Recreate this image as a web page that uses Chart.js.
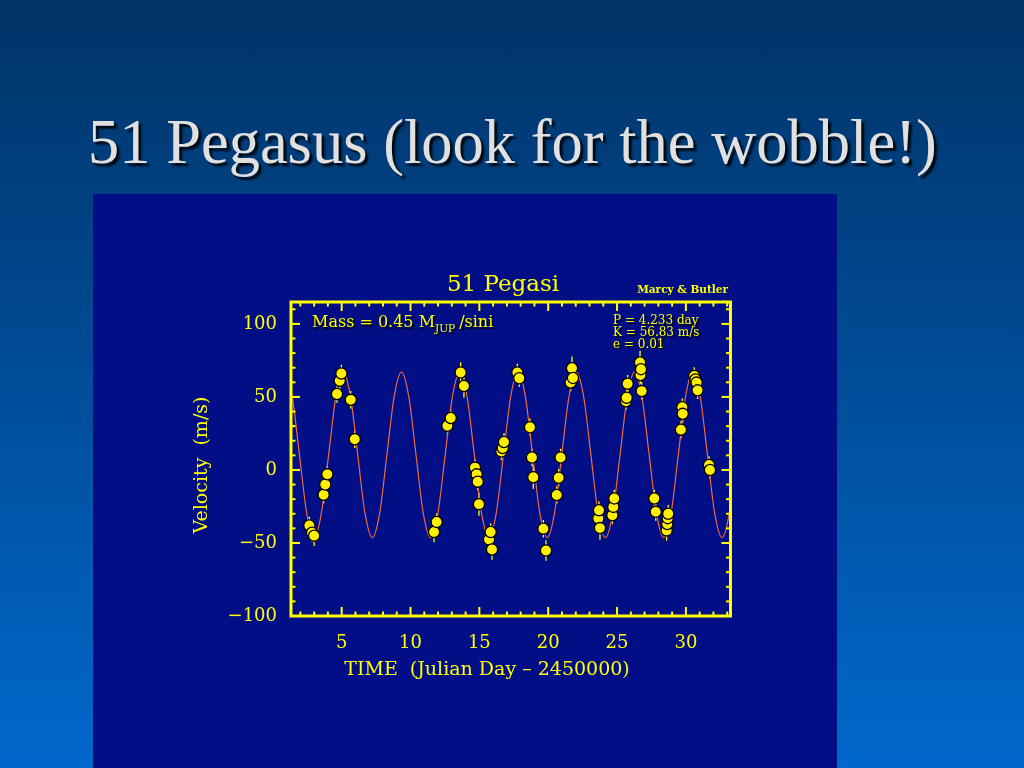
<!DOCTYPE html>
<html><head><meta charset="utf-8">
<script src="https://cdn.jsdelivr.net/npm/chart.js@4"></script>
<style>
html,body{margin:0;padding:0;width:1024px;height:768px;overflow:hidden;}
body{background:linear-gradient(to bottom,#003366 0%,#004a94 45%,#0068cc 100%);position:relative;font-family:"Liberation Serif",serif;}
#title{position:absolute;left:88px;top:111px;margin:0;font-size:62.5px;line-height:63px;font-weight:normal;color:#e0e0e0;text-shadow:3px 3px 2px rgba(0,0,0,0.85);white-space:nowrap;}
#panel{position:absolute;left:93px;top:194px;width:744px;height:574px;background:#010e86;}
#panel canvas{position:absolute;left:0;top:0;}
</style></head><body>
<h1 id="title">51 Pegasus (look for the wobble!)</h1>
<div id="panel"><canvas id="c" width="744" height="574"></canvas></div>
<script>
// Observed radial velocities (day - 2450000, m/s)
const obsTime = [2.65,2.85,3.00,3.69,3.81,3.96,4.66,4.86,4.98,5.66,5.95,
  11.71,11.90,12.68,12.92,13.64,13.88,14.68,14.80,14.88,14.97,15.70,15.82,15.92,
  16.60,16.70,16.79,17.76,17.90,18.68,18.82,18.92,19.65,19.84,20.62,20.76,20.90,
  21.63,21.73,21.80,23.64,23.69,23.76,24.66,24.73,24.80,25.65,25.70,25.77,
  26.67,26.70,26.74,26.79,27.71,27.81,28.60,28.65,28.68,28.72,29.64,29.74,29.77,
  30.61,30.70,30.78,30.85,31.68,31.75];
const obsVel = [-38,-43,-45,-17,-10,-3,52,61,66,48,21,
  -42.5,-35.6,30.3,35.6,66.7,57.5,1.6,-3,-8,-23.4,-47.6,-42.5,-54.5,
  12.6,15,19.1,66.7,62.8,29.2,8.5,-5,-40.2,-55.2,-17.2,-5.3,8.5,
  59.8,69.7,63,-33.3,-27.6,-39.8,-31,-25.3,-19.5,47,49.4,59.1,
  73.6,65,69,54,-19.5,-28.7,-41.4,-37,-33,-30,27.6,43,38.4,
  64.4,62,59.8,54.5,3.4,0];
const obsErr = [6,6,7,6,6,6,6,6,6,6,6,
  7,6,6,6,7,8,6,6,6,8,6,6,7,
  6,6,6,6,6,6,6,8,6,7,6,6,6,
  6,8,6,6,6,8,6,6,6,6,6,6,
  8,6,6,6,6,6,7,6,6,6,6,6,6,
  6,6,8,6,6,6];
// Fitted orbit curve
const fitTime = [0.877,1.406,1.935,2.464,2.994,3.523,4.052,4.581,
  5.110,5.639,6.168,6.697,7.227,7.756,8.285,8.814,
  9.343,9.872,10.401,10.930,11.460,11.989,12.518,13.047,
  13.576,14.105,14.634,15.163,15.693,16.222,16.751,17.280,
  17.809,18.338,18.868,19.397,19.926,20.455,20.984,21.513,
  22.042,22.571,23.100,23.629,24.158,24.688,25.217,25.746,
  26.275,26.804,27.334,27.863,28.392,28.921,29.450,29.979,
  30.508,31.037,31.566,32.095,32.624,33.154,33.683];
const fitVel = [67.0,50.4,10.3,-29.8,-46.4,-29.8,10.3,50.4,
  67.0,50.4,10.3,-29.8,-46.4,-29.8,10.3,50.4,
  67.0,50.4,10.3,-29.8,-46.4,-29.8,10.3,50.4,
  67.0,50.4,10.3,-29.8,-46.4,-29.8,10.3,50.4,
  67.0,50.4,10.3,-29.8,-46.4,-29.8,10.3,50.4,
  67.0,50.4,10.3,-29.8,-46.4,-29.8,10.3,50.4,
  67.0,50.4,10.3,-29.8,-46.4,-29.8,10.3,50.4,
  67.0,50.4,10.3,-29.8,-46.4,-29.8,10.3];
const xTickValues = [5,10,15,20,25,30];
const yTickValues = [-100,-50,0,50,100];
const xRange = [1.32, 33.24];
const yRange = [-100, 115];

const YEL = '#ffff00';
const SERIF = '"DejaVu Serif", serif';

const extras = {
  id: 'extras',
  beforeDatasetsDraw(chart) {
    const ctx = chart.ctx, xs = chart.scales.x, ys = chart.scales.y, a = chart.chartArea;
    ctx.save();
    ctx.beginPath(); ctx.rect(a.left, a.top, a.right - a.left, a.bottom - a.top); ctx.clip();
    ctx.strokeStyle = YEL; ctx.lineWidth = 1.3;
    for (let i = 0; i < obsTime.length; i++) {
      const px = xs.getPixelForValue(obsTime[i]);
      ctx.beginPath();
      ctx.moveTo(px, ys.getPixelForValue(obsVel[i] - obsErr[i]));
      ctx.lineTo(px, ys.getPixelForValue(obsVel[i] + obsErr[i]));
      ctx.stroke();
    }
    ctx.restore();
  },
  afterDatasetsDraw(chart) {
    const ctx = chart.ctx, xs = chart.scales.x, ys = chart.scales.y, a = chart.chartArea;
    ctx.save();
    ctx.strokeStyle = YEL;
    ctx.lineWidth = 2;
    const seg = (x1, y1, x2, y2) => { ctx.beginPath(); ctx.moveTo(x1, y1); ctx.lineTo(x2, y2); ctx.stroke(); };
    for (let v = Math.ceil(xs.min); v <= xs.max; v++) {
      const px = xs.getPixelForValue(v);
      const L = (v % 5 === 0) ? 9 : 4.5;
      seg(px, a.bottom, px, a.bottom - L);
      seg(px, a.top, px, a.top + L);
    }
    for (let v = -100; v <= ys.max; v += 10) {
      const py = ys.getPixelForValue(v);
      const L = (v % 50 === 0) ? 9 : 4.5;
      seg(a.left, py, a.left + L, py);
      seg(a.right, py, a.right - L, py);
    }
    ctx.lineWidth = 3;
    ctx.strokeRect(a.left, a.top, a.right - a.left, a.bottom - a.top);
    ctx.restore();
  },
  afterDraw(chart) {
    const ctx = chart.ctx;
    ctx.save();
    ctx.fillStyle = YEL;
    ctx.textBaseline = 'alphabetic';
    // chart title
    ctx.font = '23px ' + SERIF;
    ctx.textAlign = 'center';
    ctx.fillText('51 Pegasi', 410, 97);
    ctx.font = 'bold 10.5px ' + SERIF;
    ctx.textAlign = 'right';
    ctx.fillText('Marcy & Butler', 635, 99);
    // axis titles
    ctx.font = '19px ' + SERIF;
    ctx.textAlign = 'center';
    ctx.fillText('TIME  (Julian Day \u2013 2450000)', 394, 481);
    ctx.save();
    ctx.translate(109, 271);
    ctx.rotate(-Math.PI / 2);
    ctx.textBaseline = 'middle';
    ctx.fillText('Velocity  (m/s)', 0, 0);
    ctx.restore();
    // annotations with shadow
    ctx.shadowColor = '#000';
    ctx.shadowOffsetX = 1.5; ctx.shadowOffsetY = 1.5; ctx.shadowBlur = 1;
    ctx.textAlign = 'left';
    let x = 219;
    ctx.font = '16px ' + SERIF;
    const t1 = 'Mass = 0.45 M';
    ctx.fillText(t1, x, 133); x += ctx.measureText(t1).width;
    ctx.font = '10.5px ' + SERIF;
    ctx.fillText('JUP', x, 138); x += ctx.measureText('JUP').width + 4;
    ctx.font = '16px ' + SERIF;
    ctx.fillText('/sini', x, 133);
    ctx.font = '12px ' + SERIF;
    ctx.fillText('P = 4.233 day', 520, 130);
    ctx.fillText('K = 56.83 m/s', 520, 142);
    ctx.fillText('e = 0.01', 520, 153.5);
    ctx.restore();
  }
};

const fmt = v => (v < 0 ? '\u2212' + Math.abs(v) : String(v));

new Chart(document.getElementById('c'), {
  type: 'scatter',
  data: {
    datasets: [
      {
        label: 'obs',
        order: 0,
        data: obsTime.map((t, i) => ({ x: t, y: obsVel[i] })),
        showLine: false,
        pointRadius: 5.6,
        pointBackgroundColor: '#ffee00',
        pointBorderColor: '#000000',
        pointBorderWidth: 1.3
      },
      {
        label: 'fit',
        order: 1,
        data: fitTime.map((t, i) => ({ x: t, y: fitVel[i] })),
        showLine: true,
        pointRadius: 0,
        borderColor: '#ee6a40',
        borderWidth: 1.2,
        cubicInterpolationMode: 'monotone',
        fill: false
      }
    ]
  },
  options: {
    responsive: false,
    animation: false,
    devicePixelRatio: 1,
    events: [],
    layout: { padding: { left: 96, top: 108, right: 106.5, bottom: 0 } },
    plugins: { legend: { display: false }, tooltip: { enabled: false }, title: { display: false } },
    scales: {
      x: {
        type: 'linear', min: xRange[0], max: xRange[1],
        grid: { display: false, drawTicks: false }, border: { display: false },
        afterBuildTicks: s => { s.ticks = xTickValues.map(v => ({ value: v })); },
        afterFit: s => { s.height = 152; },
        ticks: { color: YEL, font: { family: SERIF, size: 18 }, padding: 17, maxRotation: 0, autoSkip: false, callback: fmt }
      },
      y: {
        type: 'linear', min: yRange[0], max: yRange[1],
        grid: { display: false, drawTicks: false }, border: { display: false },
        afterBuildTicks: s => { s.ticks = yTickValues.map(v => ({ value: v })); },
        afterFit: s => { s.width = 102; },
        ticks: { color: YEL, font: { family: SERIF, size: 18 }, padding: 14, autoSkip: false, callback: fmt }
      }
    }
  },
  plugins: [extras]
});
</script>
</body></html>
